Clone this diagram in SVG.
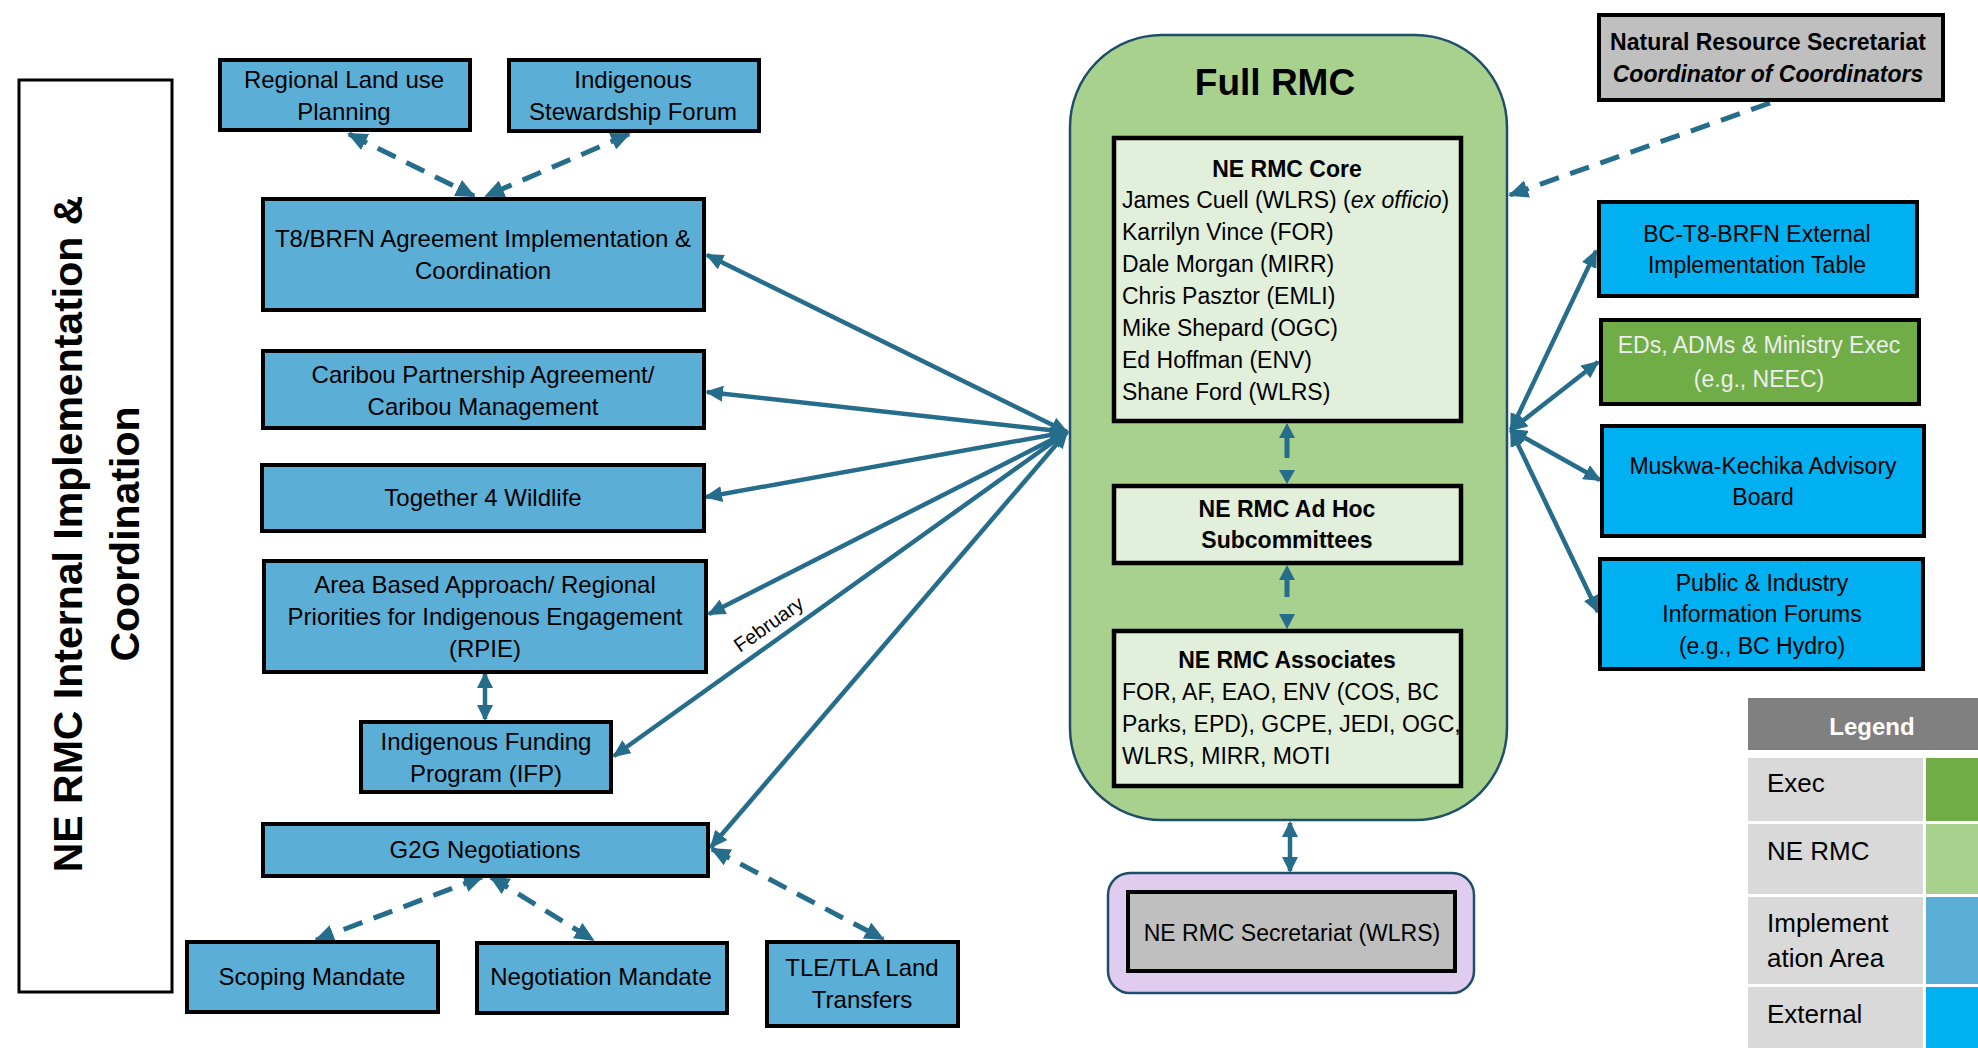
<svg xmlns="http://www.w3.org/2000/svg" width="1978" height="1048" viewBox="0 0 1978 1048">
<defs>
<style>
text{font-family:"Liberation Sans",Arial,sans-serif;fill:#000}
.imp{fill:#5BAED6;stroke:#000;stroke-width:4}
.ext{fill:#00B0F0;stroke:#000;stroke-width:4}
.exe{fill:#70AD47;stroke:#000;stroke-width:4}
.gry{fill:#BFBFBF;stroke:#000;stroke-width:4}
.lg{fill:#E2EFDA;stroke:#000;stroke-width:4.5}
.t24{font-size:24px}
.t23{font-size:23px}
.b23{font-size:23px;font-weight:bold}
.c{text-anchor:middle}
.con{stroke:#266C8B;stroke-width:4.5;fill:none}
.dash{stroke:#266C8B;stroke-width:5;fill:none;stroke-dasharray:20 12}
.ah{fill:#266C8B}
.leg{font-size:26px}
</style>
<marker id="arr" viewBox="0 0 18 16" refX="16" refY="8" markerWidth="18" markerHeight="16" markerUnits="userSpaceOnUse" orient="auto-start-reverse">
<path class="ah" d="M0,0 L18,8 L0,16 z"/>
</marker>
<marker id="arrd" viewBox="0 0 20 18" refX="18" refY="9" markerWidth="20" markerHeight="18" markerUnits="userSpaceOnUse" orient="auto-start-reverse">
<path class="ah" d="M0,0 L20,9 L0,18 z"/>
</marker>
<marker id="arrw" viewBox="0 0 16 16" refX="14" refY="8" markerWidth="16" markerHeight="16" markerUnits="userSpaceOnUse" orient="auto-start-reverse">
<path class="ah" d="M0,0 L16,8 L0,16 z"/>
</marker>
</defs>
<rect width="1978" height="1048" fill="#fff"/>

<g id="title">
<rect x="19" y="80" width="153" height="912" fill="#fff" stroke="#000" stroke-width="3"/>
<text transform="translate(82,534) rotate(-90)" class="c" font-size="41" font-weight="bold">NE RMC Internal Implementation  &amp;</text>
<text transform="translate(139,534) rotate(-90)" class="c" font-size="41" font-weight="bold">Coordination</text>
</g>

<g id="connectors">
<line class="con" x1="1067" y1="432" x2="707" y2="255" marker-start="url(#arr)" marker-end="url(#arr)"/>
<line class="con" x1="1067" y1="432" x2="707" y2="392" marker-start="url(#arr)" marker-end="url(#arr)"/>
<line class="con" x1="1067" y1="432" x2="706" y2="497" marker-start="url(#arr)" marker-end="url(#arr)"/>
<line class="con" x1="1067" y1="432" x2="709" y2="614" marker-start="url(#arr)" marker-end="url(#arr)"/>
<line class="con" x1="1067" y1="432" x2="614" y2="756" marker-start="url(#arr)" marker-end="url(#arr)"/>
<line class="con" x1="1067" y1="432" x2="711" y2="847" marker-start="url(#arr)" marker-end="url(#arr)"/>
<line class="con" x1="1511" y1="430" x2="1596" y2="251" marker-start="url(#arr)" marker-end="url(#arr)"/>
<line class="con" x1="1511" y1="430" x2="1598" y2="362" marker-start="url(#arr)" marker-end="url(#arr)"/>
<line class="con" x1="1511" y1="430" x2="1600" y2="480" marker-start="url(#arr)" marker-end="url(#arr)"/>
<line class="con" x1="1511" y1="430" x2="1598" y2="612" marker-start="url(#arr)" marker-end="url(#arr)"/>
<line class="dash" x1="349" y1="134" x2="474" y2="196" marker-start="url(#arrd)" marker-end="url(#arrd)"/>
<line class="dash" x1="629" y1="134" x2="486" y2="196" marker-start="url(#arrd)" marker-end="url(#arrd)"/>
<line class="dash" x1="1770" y1="103" x2="1510" y2="195" marker-end="url(#arrd)"/>
<line class="dash" x1="482" y1="877" x2="316" y2="940" marker-start="url(#arrd)" marker-end="url(#arrd)"/>
<line class="dash" x1="491" y1="877" x2="593" y2="940" marker-start="url(#arrd)" marker-end="url(#arrd)"/>
<line class="dash" x1="712" y1="849" x2="883" y2="939" marker-start="url(#arrd)" marker-end="url(#arrd)"/>
<line class="con" stroke-width="5" x1="485" y1="674" x2="485" y2="719" marker-start="url(#arrw)" marker-end="url(#arrw)"/>
<line class="con" stroke-width="5" x1="1290" y1="823" x2="1290" y2="871" marker-start="url(#arrw)" marker-end="url(#arrw)"/>
<text transform="translate(740,653) rotate(-35.4)" font-size="20">February</text>
</g>

<g id="rlup">
<rect class="imp" x="220" y="60" width="250" height="70"/>
<text class="t24 c" x="344" y="88">Regional Land use</text>
<text class="t24 c" x="344" y="120">Planning</text>
</g>
<g id="isf">
<rect class="imp" x="509" y="60" width="250" height="71"/>
<text class="t24 c" x="633" y="88">Indigenous</text>
<text class="t24 c" x="633" y="120">Stewardship Forum</text>
</g>
<g id="t8">
<rect class="imp" x="263" y="199" width="441" height="111"/>
<text class="t24 c" x="483" y="247">T8/BRFN Agreement Implementation &amp;</text>
<text class="t24 c" x="483" y="279">Coordination</text>
</g>
<g id="caribou">
<rect class="imp" x="263" y="351" width="441" height="77"/>
<text class="t24 c" x="483" y="383">Caribou Partnership Agreement/</text>
<text class="t24 c" x="483" y="415">Caribou Management</text>
</g>
<g id="t4w">
<rect class="imp" x="262" y="465" width="442" height="66"/>
<text class="t24 c" x="483" y="506">Together 4 Wildlife</text>
</g>
<g id="aba">
<rect class="imp" x="264" y="561" width="442" height="111"/>
<text class="t24 c" x="485" y="593">Area Based Approach/ Regional</text>
<text class="t24 c" x="485" y="625">Priorities for Indigenous Engagement</text>
<text class="t24 c" x="485" y="657">(RPIE)</text>
</g>
<g id="ifp">
<rect class="imp" x="361" y="722" width="250" height="70"/>
<text class="t24 c" x="486" y="750">Indigenous Funding</text>
<text class="t24 c" x="486" y="782">Program (IFP)</text>
</g>
<g id="g2g">
<rect class="imp" x="263" y="824" width="445" height="52"/>
<text class="t24 c" x="485" y="858">G2G Negotiations</text>
</g>
<g id="scoping">
<rect class="imp" x="187" y="942" width="251" height="70"/>
<text class="t24 c" x="312" y="985">Scoping Mandate</text>
</g>
<g id="negotiation">
<rect class="imp" x="477" y="943" width="250" height="70"/>
<text class="t24 c" x="601" y="985">Negotiation Mandate</text>
</g>
<g id="tle">
<rect class="imp" x="767" y="942" width="191" height="84"/>
<text class="t24 c" x="862" y="976">TLE/TLA Land</text>
<text class="t24 c" x="862" y="1008">Transfers</text>
</g>

<g id="fullrmc">
<rect x="1070" y="35" width="437" height="785" rx="92" ry="92" fill="#A9D18E" stroke="#1F4E6B" stroke-width="2.5"/>
<text class="c" x="1275" y="95" font-size="37" font-weight="bold">Full RMC</text>
</g>
<g id="core">
<rect class="lg" x="1114" y="138" width="347" height="283"/>
<text class="b23 c" x="1287" y="177">NE RMC Core</text>
<text class="t23" x="1122" y="208">James Cuell (WLRS) (<tspan font-style="italic">ex officio</tspan>)</text>
<text class="t23" x="1122" y="240">Karrilyn Vince (FOR)</text>
<text class="t23" x="1122" y="272">Dale Morgan (MIRR)</text>
<text class="t23" x="1122" y="304">Chris Pasztor (EMLI)</text>
<text class="t23" x="1122" y="336">Mike Shepard (OGC)</text>
<text class="t23" x="1122" y="368">Ed Hoffman (ENV)</text>
<text class="t23" x="1122" y="400">Shane Ford (WLRS)</text>
</g>
<g id="inner-arrows">
<polygon class="ah" points="1287,423 1295,438 1279,438"/>
<rect class="ah" x="1284.5" y="437" width="5" height="21"/>
<polygon class="ah" points="1279,470 1295,470 1287,484"/>
<polygon class="ah" points="1287,565 1295,580 1279,580"/>
<rect class="ah" x="1284.5" y="579" width="5" height="18"/>
<polygon class="ah" points="1279,614 1295,614 1287,629"/>
</g>
<g id="adhoc">
<rect class="lg" x="1114" y="486" width="347" height="77"/>
<text class="b23 c" x="1287" y="517">NE RMC Ad Hoc</text>
<text class="b23 c" x="1287" y="548">Subcommittees</text>
</g>
<g id="associates">
<rect class="lg" x="1114" y="631" width="347" height="155"/>
<text class="b23 c" x="1287" y="668">NE RMC Associates</text>
<text class="t23" x="1122" y="700">FOR, AF, EAO, ENV (COS, BC</text>
<text class="t23" x="1122" y="732">Parks, EPD), GCPE, JEDI, OGC,</text>
<text class="t23" x="1122" y="764">WLRS, MIRR, MOTI</text>
</g>
<g id="secretariat">
<rect x="1108" y="873" width="366" height="120" rx="22" ry="22" fill="#E0CCEE" stroke="#1F4E6B" stroke-width="2.5"/>
<rect class="gry" x="1128" y="892" width="327" height="79"/>
<text class="t23 c" x="1292" y="941">NE RMC Secretariat (WLRS)</text>
</g>

<g id="nrs">
<rect class="gry" x="1599" y="15" width="344" height="85"/>
<text class="b23 c" x="1768" y="50">Natural Resource Secretariat</text>
<text class="b23 c" x="1768" y="82" font-style="italic">Coordinator of Coordinators</text>
</g>
<g id="bct8">
<rect class="ext" x="1599" y="202" width="318" height="94"/>
<text class="t23 c" x="1757" y="242">BC-T8-BRFN External</text>
<text class="t23 c" x="1757" y="273">Implementation Table</text>
</g>
<g id="eds">
<rect class="exe" x="1601" y="320" width="318" height="84"/>
<text class="t23 c" x="1759" y="353" style="fill:#EDEDED">EDs, ADMs &amp; Ministry Exec</text>
<text class="t23 c" x="1759" y="387" style="fill:#EDEDED">(e.g., NEEC)</text>
</g>
<g id="mk">
<rect class="ext" x="1602" y="426" width="322" height="110"/>
<text class="t23 c" x="1763" y="474">Muskwa-Kechika Advisory</text>
<text class="t23 c" x="1763" y="505">Board</text>
</g>
<g id="public">
<rect class="ext" x="1600" y="559" width="323" height="110"/>
<text class="t23 c" x="1762" y="591">Public &amp; Industry</text>
<text class="t23 c" x="1762" y="622">Information Forums</text>
<text class="t23 c" x="1762" y="654">(e.g., BC Hydro)</text>
</g>

<g id="legend">
<rect x="1748" y="698" width="230" height="52" fill="#808080"/>
<text class="c" x="1872" y="735" font-size="24" font-weight="bold" style="fill:#fff">Legend</text>
<rect x="1748" y="758" width="175" height="63" fill="#D9D9D9"/>
<rect x="1926" y="758" width="52" height="63" fill="#70AD47"/>
<rect x="1748" y="824" width="175" height="70" fill="#D9D9D9"/>
<rect x="1926" y="824" width="52" height="70" fill="#A9D18E"/>
<rect x="1748" y="897" width="175" height="87" fill="#D9D9D9"/>
<rect x="1926" y="897" width="52" height="87" fill="#5BAED6"/>
<rect x="1748" y="987" width="175" height="61" fill="#D9D9D9"/>
<rect x="1926" y="987" width="52" height="61" fill="#00B0F0"/>
<text class="leg" x="1767" y="792">Exec</text>
<text class="leg" x="1767" y="860">NE RMC</text>
<text class="leg" x="1767" y="932">Implement</text>
<text class="leg" x="1767" y="967">ation Area</text>
<text class="leg" x="1767" y="1023">External</text>
</g>
</svg>
